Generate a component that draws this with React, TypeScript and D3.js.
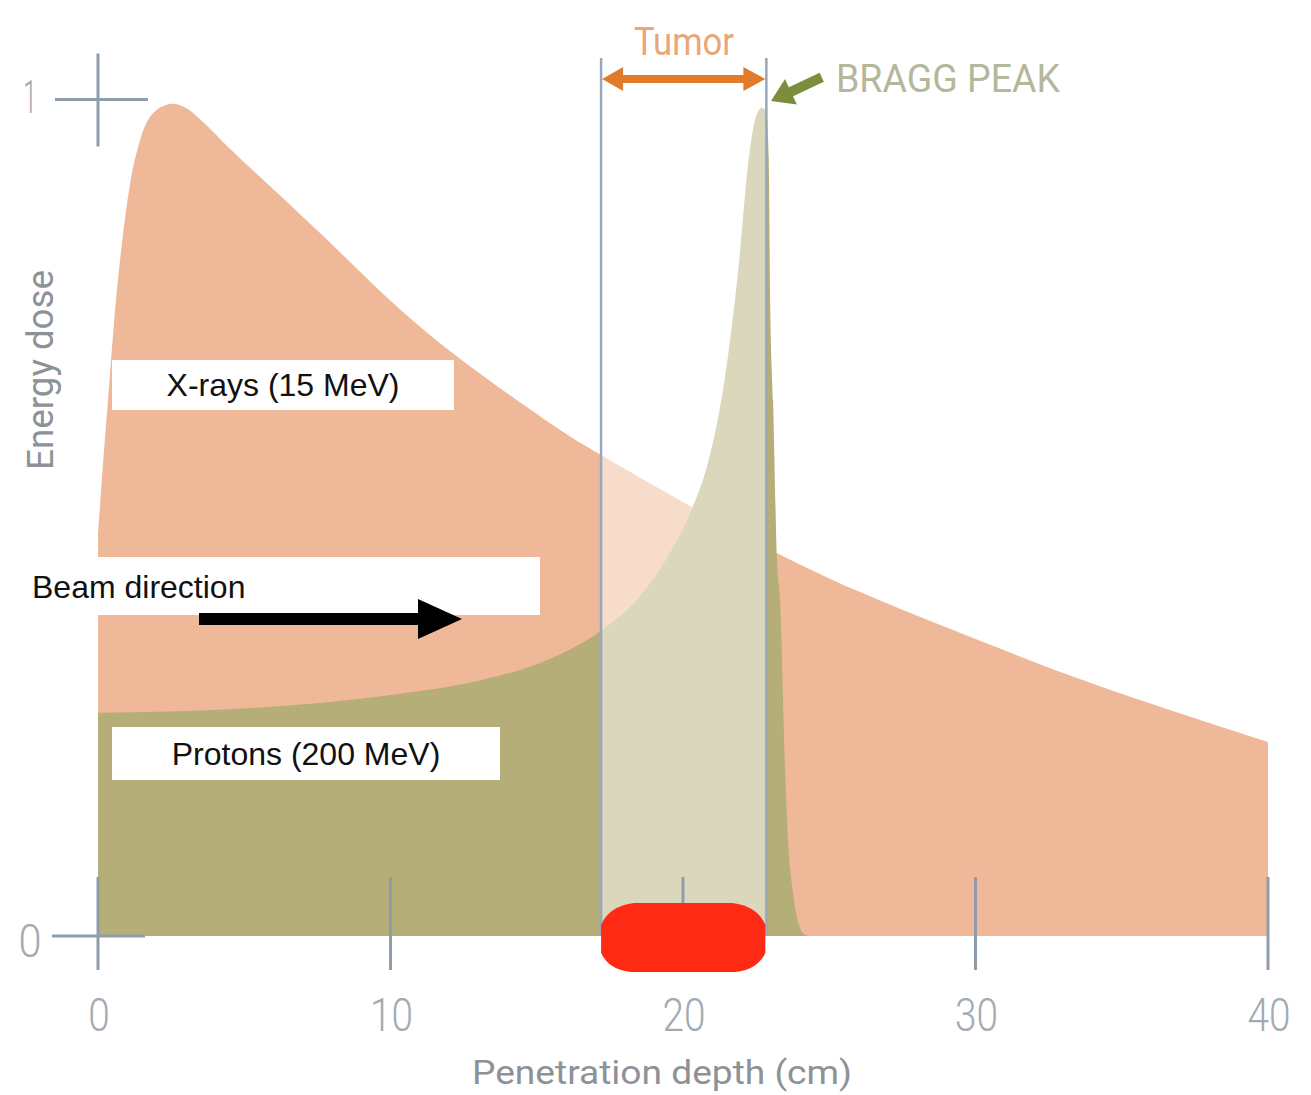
import React from "react";
import * as d3 from "d3";

// ---- data (depth in cm, relative dose) ----
const xrayDepth = [0, 0.13, 0.34, 0.68, 1.1, 1.37, 1.7, 2.1, 2.55, 3.0, 3.5, 4.6, 5.8, 7.6, 10.3, 12.2, 15.8, 17.2, 20.3, 23.2, 26, 30, 34.3, 40];
const xrayDose = [0.48, 0.545, 0.64, 0.784, 0.9, 0.943, 0.975, 0.99, 0.995, 0.99, 0.976, 0.938, 0.899, 0.84, 0.75, 0.695, 0.605, 0.575, 0.513, 0.458, 0.412, 0.355, 0.298, 0.232];

const protonDepth = [0, 5, 10, 13, 15, 16, 17.2, 18.5, 19.5, 20.3, 20.9, 21.4, 21.9, 22.25, 22.5, 22.7, 22.85, 22.93, 22.98, 23.08, 23.21, 23.32, 23.49, 23.66, 24.1, 24.3];
const protonDose = [0.267, 0.272, 0.288, 0.305, 0.325, 0.34, 0.365, 0.405, 0.455, 0.51, 0.572, 0.66, 0.8, 0.93, 0.98, 0.99, 0.985, 0.93, 0.76, 0.64, 0.453, 0.4, 0.2, 0.082, 0.004, 0];

const tumorRange = [17.2, 22.85];
const xTicks = [0, 10, 20, 30, 40];
const yTicks = [0, 1];
const xTickLabels = ["0", "10", "20", "30", "40"];
const yTickLabels = ["0", "1"];

const xrayPts = xrayDepth.map((d, i) => [d, xrayDose[i]] as [number, number]);
const protonPts = protonDepth.map((d, i) => [d, protonDose[i]] as [number, number]);

export default function App() {
  const W = 1311, H = 1095;
  const x = d3.scaleLinear().domain([0, 40]).range([98, 1268]);
  const y = d3.scaleLinear().domain([0, 1]).range([936, 99.5]);

  const xrayArea = d3
    .area<[number, number]>()
    .x((d) => x(d[0]))
    .y0(y(0))
    .y1((d) => y(d[1]))
    .curve(d3.curveCatmullRom.alpha(0.5));

  const protonArea = d3
    .area<[number, number]>()
    .x((d) => x(d[0]))
    .y0(y(0))
    .y1((d) => y(d[1]))
    .curve(d3.curveMonotoneX);

  const tL = x(tumorRange[0]);
  const tR = x(tumorRange[1]);
  const axisCol = "#8f9dab";
  const tickLabCol = "#a3aab1";
  const titleCol = "#8c9297";

  const top = y(0) - 33, bot = y(0) + 36;
  const bl = tL, br = tR - 1;
  const blob = [
    `M ${bl + 33} ${top}`,
    `L ${br - 33} ${top}`,
    `Q ${br - 8} ${top + 3}, ${br} ${top + 22}`,
    `L ${br} ${bot - 19}`,
    `Q ${br - 8} ${bot - 2}, ${br - 30} ${bot}`,
    `L ${bl + 30} ${bot}`,
    `Q ${bl + 8} ${bot - 2}, ${bl} ${bot - 19}`,
    `L ${bl} ${top + 22}`,
    `Q ${bl + 8} ${top + 3}, ${bl + 33} ${top}`,
    "Z",
  ].join(" ");

  // tumor double arrow
  const ay = 79;
  const tumorArrow = `M ${tL + 1} ${ay} L ${tL + 22} ${ay - 12} L ${tL + 22} ${ay - 4} L ${tR - 23} ${ay - 4} L ${tR - 23} ${ay - 12} L ${tR - 1} ${ay} L ${tR - 23} ${ay + 12} L ${tR - 23} ${ay + 4} L ${tL + 22} ${ay + 4} L ${tL + 22} ${ay + 12} Z`;

  return (
    <svg width={W} height={H} style={{ position: "absolute", left: 0, top: 0, background: "#fff" }}>
      <path d={xrayArea(xrayPts) || ""} fill="#efb898" />
      <path d={protonArea(protonPts) || ""} fill="#b6ae78" />
      <rect x={tL} y={40} width={tR - tL} height={y(0) - 40 + 1} fill="#ffffff" opacity={0.5} />

      {/* tumor boundary lines */}
      <line x1={tL} x2={tL} y1={58} y2={y(0)} stroke="#98a8ba" strokeWidth={2.5} />
      <line x1={tR} x2={tR} y1={58} y2={y(0)} stroke="#98a8ba" strokeWidth={2.5} />

      {/* axes: crosses and ticks */}
      <line x1={x(0) - 43} x2={x(0) + 50} y1={y(1)} y2={y(1)} stroke={axisCol} strokeWidth={3} />
      <line x1={x(0)} x2={x(0)} y1={y(1) - 46} y2={y(1) + 47} stroke={axisCol} strokeWidth={3} />
      <line x1={x(0) - 46} x2={x(0) + 47} y1={y(0)} y2={y(0)} stroke={axisCol} strokeWidth={3} />
      {xTicks.map((t) => (
        <line key={t} x1={x(t)} x2={x(t)} y1={y(0) - 59} y2={y(0) + 34} stroke={axisCol} strokeWidth={3} />
      ))}

      <path d={blob} fill="#ff2a14" />

      {xTicks.map((t, i) => (
        <text key={t} x={x(t) + 1} y={1031} textAnchor="middle" fontFamily="Roboto" fontWeight={300} fontSize={46}
          fill={tickLabCol} textLength={xTickLabels[i].length * 21.5} lengthAdjust="spacingAndGlyphs">
          {xTickLabels[i]}
        </text>
      ))}
      {yTicks.map((t, i) => (
        <text key={t} x={30} y={y(t) + (t === 0 ? 21 : 13)} textAnchor="middle" fontFamily="Roboto" fontWeight={300} fontSize={46}
          fill={tickLabCol} textLength={t === 0 ? 23 : 14} lengthAdjust="spacingAndGlyphs">
          {yTickLabels[i]}
        </text>
      ))}

      <text x={662} y={1084} textAnchor="middle" fontFamily="Roboto" fontSize={34} fill={titleCol}
        textLength={380} lengthAdjust="spacingAndGlyphs">Penetration depth (cm)</text>
      <text transform={`translate(53,370) rotate(-90)`} textAnchor="middle" fontFamily="Roboto" fontSize={36} fill={titleCol}
        textLength={200} lengthAdjust="spacingAndGlyphs">Energy dose</text>

      {/* Tumor annotation */}
      <text x={684} y={55} textAnchor="middle" fontFamily="Roboto" fontSize={39} fill="#eaa57b"
        textLength={100} lengthAdjust="spacingAndGlyphs">Tumor</text>
      <path d={tumorArrow} fill="#e07b2c" />

      {/* Bragg peak annotation */}
      <text x={836} y={92} fontFamily="Roboto" fontSize={38} fill="#b4b89b" textLength={224} lengthAdjust="spacingAndGlyphs">BRAGG PEAK</text>
      <g transform="translate(771,101) rotate(-25)">
        <path d="M 0 0 L 22 -14 L 22 -5 L 56 -5 L 56 5 L 22 5 L 22 14 Z" fill="#7b8e3b" />
      </g>

      {/* label boxes */}
      <rect x={112} y={360} width={342} height={50} fill="#fff" />
      <text x={283} y={396} textAnchor="middle" fontFamily="Liberation Sans, Arial" fontSize={32} fill="#111">X-rays (15 MeV)</text>

      <rect x={18} y={557} width={522} height={58} fill="#fff" />
      <text x={32} y={598} fontFamily="Liberation Sans, Arial" fontSize={32} fill="#111">Beam direction</text>
      <rect x={199} y={613} width={222} height={12} fill="#000" />
      <path d="M 418 599 L 462 619 L 418 639 Z" fill="#000" />

      <rect x={112} y={727} width={388} height={53} fill="#fff" />
      <text x={306} y={765} textAnchor="middle" fontFamily="Liberation Sans, Arial" fontSize={32} fill="#111">Protons (200 MeV)</text>
    </svg>
  );
}
